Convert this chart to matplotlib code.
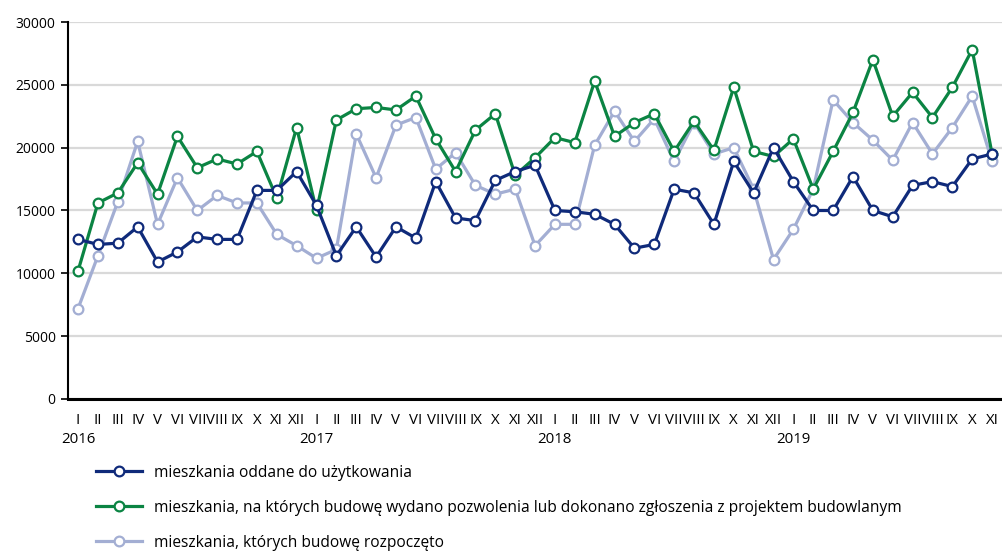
import matplotlib
matplotlib.use("Agg")
import matplotlib.pyplot as plt
from matplotlib.lines import Line2D

months = ["I", "II", "III", "IV", "V", "VI", "VII", "VIII", "IX", "X", "XI", "XII"]
years = ["2016", "2017", "2018", "2019"]
month_labels = months * 3 + months[:11]

oddane = [12700, 12300, 12400, 13700, 10900, 11700, 12900, 12700, 12700, 16600, 16600, 18100,
          15400, 11400, 13700, 11300, 13700, 12800, 17300, 14400, 14200, 17400, 18100, 18600,
          15000, 14900, 14700, 13900, 12000, 12300, 16700, 16400, 13900, 18900, 16400, 20000,
          17300, 15000, 15000, 17700, 15000, 14500, 17000, 17300, 16900, 19100, 19500]
pozwolenia = [10200, 15600, 16400, 18800, 16300, 20900, 18400, 19100, 18700, 19700, 16000, 21600,
              15000, 22200, 23100, 23200, 23000, 24100, 20700, 18100, 21400, 22700, 17800, 19200,
              20800, 20400, 25300, 20900, 22000, 22700, 19700, 22100, 19800, 24800, 19700, 19300,
              20700, 16700, 19700, 22800, 27000, 22500, 24400, 22400, 24800, 27800, 19500]
rozpoczete = [7200, 11400, 15700, 20500, 13900, 17600, 15000, 16200, 15600, 15600, 13100, 12200,
              11200, 11900, 21100, 17600, 21800, 22400, 18300, 19600, 17000, 16300, 16700, 12200,
              13900, 13900, 20200, 22900, 20500, 22300, 18900, 22000, 19500, 20000, 16700, 11100,
              13500, 16700, 23800, 22000, 20600, 19000, 22000, 19500, 21600, 24100, 18900]

series = [
    ("mieszkania oddane do użytkowania", oddane, "#0f2a7a"),
    ("mieszkania, na których budowę wydano pozwolenia lub dokonano zgłoszenia z projektem budowlanym", pozwolenia, "#0b8443"),
    ("mieszkania, których budowę rozpoczęto", rozpoczete, "#a3aed3"),
]

plt.rcParams['font.family'] = ['Open Sans', 'DejaVu Sans']

fig = plt.figure(figsize=(10.02, 5.53), dpi=100)
ax = fig.add_axes([0.068, 0.2785, 0.932, 0.6817])

x = list(range(len(month_labels)))
for name, vals, col in [series[2], series[1], series[0]]:
    ax.plot(x, vals, color=col, lw=2.3, marker="o", ms=7, mfc="white", mec=col, mew=1.6,
            solid_joinstyle="round", zorder=3)

ax.set_xlim(-0.5, len(x) - 0.5)
ax.set_ylim(0, 30000)
ax.set_yticks(range(0, 30001, 5000))
ax.tick_params(axis="y", labelsize=10, length=5, width=1.2, pad=4, colors="black")
ax.yaxis.grid(True, color="#d9d9d9", lw=1.6, zorder=0)
ax.set_axisbelow(True)
ax.set_xticks(x)
ax.set_xticklabels(month_labels, fontsize=10.8)
ax.tick_params(axis="x", length=0, pad=10)
for s in ["top", "right"]:
    ax.spines[s].set_visible(False)
ax.spines["left"].set_linewidth(1.5)
ax.spines["bottom"].set_linewidth(2.2)

for i, yr in enumerate(years):
    ax.text(i * 12, -0.087, yr, transform=ax.get_xaxis_transform(), ha="center", va="top", fontsize=10.8)

handles = [Line2D([0], [0], color=c, lw=2.3, marker="o", ms=7, mfc="white", mec=c, mew=1.6) for _, _, c in series]
labels = [n for n, _, _ in series]
fig.legend(handles, labels, loc="upper left", bbox_to_anchor=(0.090, 0.171), frameon=False,
           fontsize=11.2, handlelength=2.9, labelspacing=1.22, handletextpad=0.8, borderaxespad=0)

fig.savefig("out.png", dpi=100)
